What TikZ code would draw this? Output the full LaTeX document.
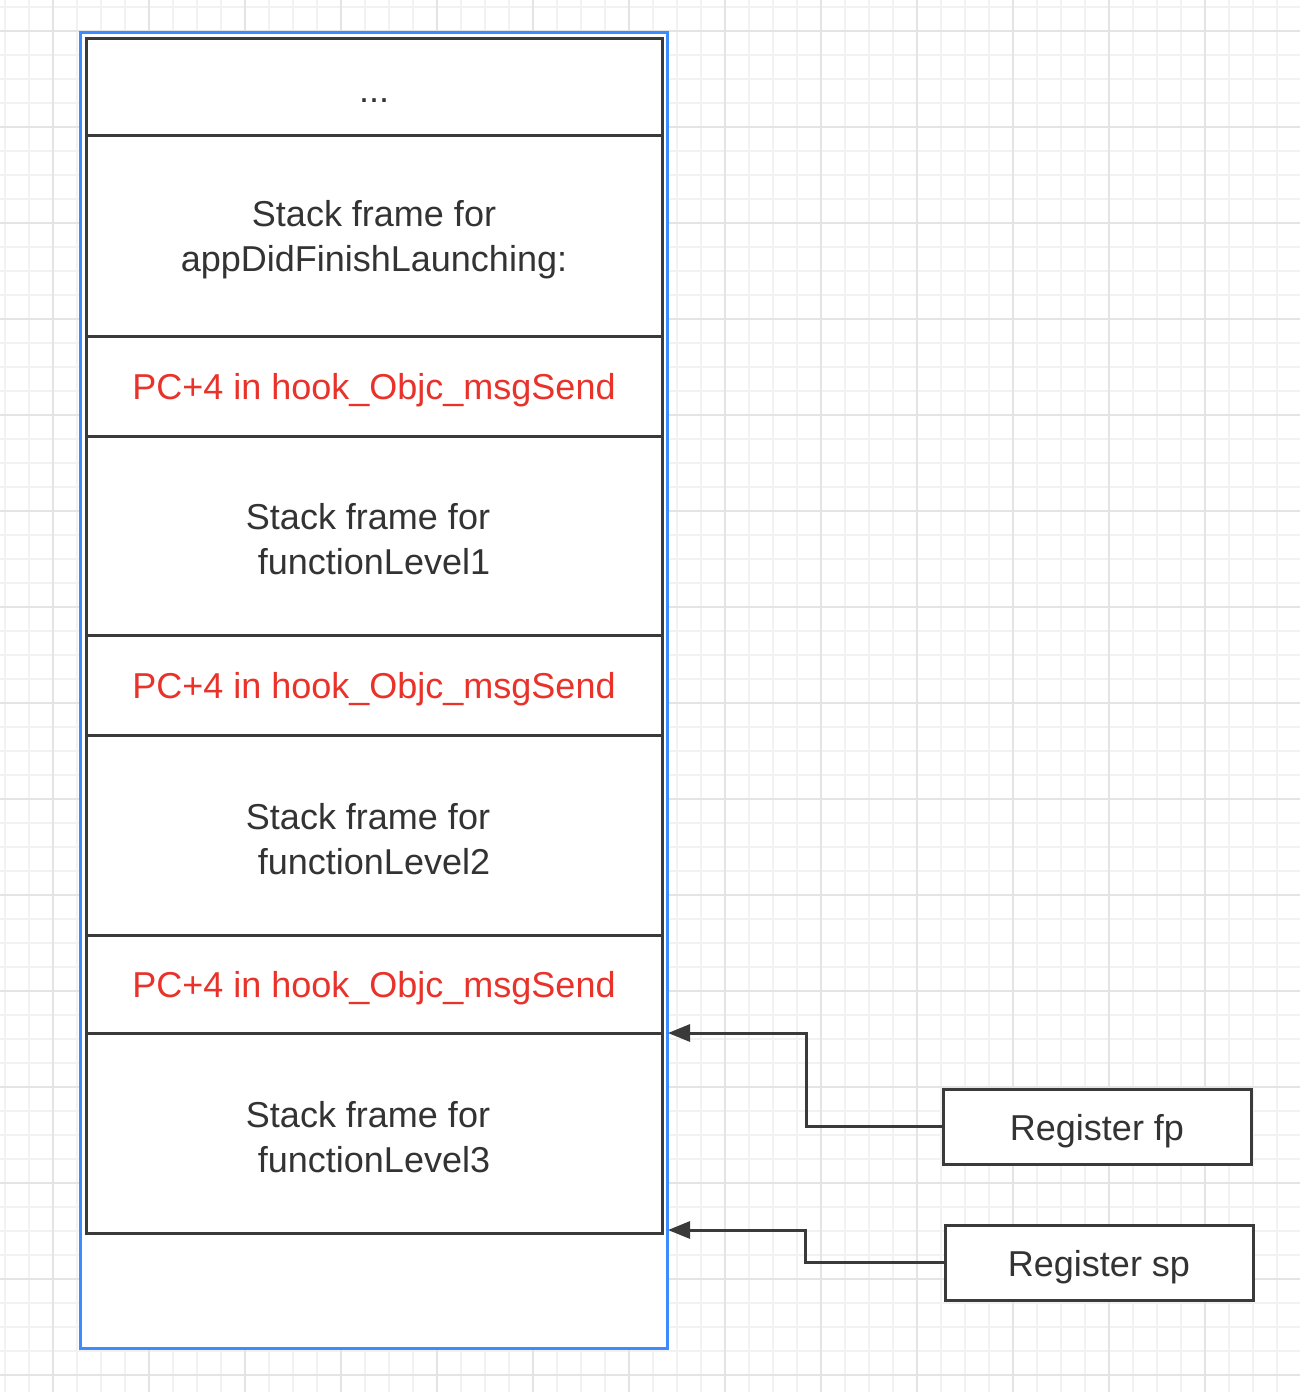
\documentclass[tikz,border=0pt]{standalone}
\usepackage{fontspec}
\setmainfont{Liberation Sans}
\usetikzlibrary{arrows.meta}
\definecolor{txt}{HTML}{333333}
\definecolor{redtxt}{HTML}{E8322A}
\definecolor{blueline}{HTML}{3C8CFF}
\definecolor{edgec}{HTML}{3A3A3A}
\definecolor{gridminor}{HTML}{F2F2F2}
\definecolor{gridmajor}{HTML}{E4E4E4}
\begin{document}
\begin{tikzpicture}[x=0.5pt,y=-0.5pt,
  lbl/.style={font=\fontsize{18}{22.5}\selectfont, text=txt, align=center, inner sep=0pt},
  redlbl/.style={lbl, text=redtxt},
  cell/.style={draw=edgec, line width=1.5pt, fill=white, minimum width=288pt,
    inner sep=0pt, outer sep=0pt, anchor=north west},
  regbox/.style={draw=edgec, line width=1.5pt, fill=white, minimum width=154pt,
    minimum height=37.5pt, inner sep=0pt, outer sep=0pt},
  conn/.style={draw=edgec, line width=1.5pt, -{Triangle[length=11pt,width=8.5pt]}}]
\useasboundingbox (0,0) rectangle (1300,1392);
\fill[white] (0,0) rectangle (1300,1392);
% grid
\foreach \x in {5,29,...,1300} \draw[gridminor, line width=0.6pt] (\x,0) -- (\x,1392);
\foreach \y in {7,31,...,1392} \draw[gridminor, line width=0.6pt] (0,\y) -- (1300,\y);
\foreach \x in {53,149,...,1300} \draw[gridmajor, line width=0.8pt] (\x,0) -- (\x,1392);
\foreach \y in {31,127,...,1392} \draw[gridmajor, line width=0.8pt] (0,\y) -- (1300,\y);
% outer blue container
\draw[blueline, line width=1.5pt, fill=white] (80,32) rectangle (667,1348);
% stack cells
\node[cell, minimum height=48.5pt] (c0) at (86,38) {};
\node[cell, minimum height=100.5pt] (c1) at (86,135) {};
\node[cell, minimum height=50pt] (c2) at (86,336) {};
\node[cell, minimum height=99.5pt] (c3) at (86,436) {};
\node[cell, minimum height=50pt] (c4) at (86,635) {};
\node[cell, minimum height=100pt] (c5) at (86,735) {};
\node[cell, minimum height=49pt] (c6) at (86,935) {};
\node[cell, minimum height=100pt] (c7) at (86,1033) {};
% texts
\node[lbl] (t0) at ([yshift=-7pt]c0.center) {...};
\node[lbl] (t1) at ([yshift=-2pt]c1.center) {Stack frame for\\appDidFinishLaunching:};
\node[redlbl] (t2) at ([yshift=-2pt]c2.center) {PC+4 in hook\_Objc\_msgSend};
\node[lbl] (t3) at ([yshift=-2pt]c3.center) {Stack frame for\hspace*{6pt}\\functionLevel1};
\node[redlbl] (t4) at ([yshift=-2pt]c4.center) {PC+4 in hook\_Objc\_msgSend};
\node[lbl] (t5) at ([yshift=-2pt]c5.center) {Stack frame for\hspace*{6pt}\\functionLevel2};
\node[redlbl] (t6) at ([yshift=-2pt]c6.center) {PC+4 in hook\_Objc\_msgSend};
\node[lbl] (t7) at ([yshift=-2pt]c7.center) {Stack frame for\hspace*{6pt}\\functionLevel3};
% registers
\node[regbox] (fp) at (1097,1126.5) {};
\node[regbox] (sp) at (1099,1262.5) {};
\node[lbl] (tfp) at ([yshift=-2.5pt]fp.center) {Register fp};
\node[lbl] (tsp) at ([yshift=-2.5pt]sp.center) {Register sp};
\coordinate (fpT) at (668,1033);
\coordinate (spT) at (668,1230);
\draw[conn] (fp.west) -- ++(-137,0) |- (fpT);
\draw[conn] (sp.west) -- ++(-140,0) |- (spT);
\end{tikzpicture}
\end{document}
